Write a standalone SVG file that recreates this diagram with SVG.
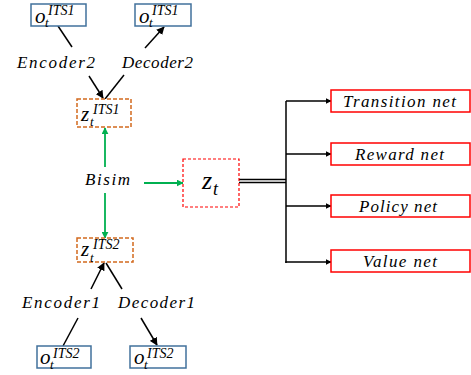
<svg xmlns="http://www.w3.org/2000/svg" width="471" height="375" viewBox="0 0 471 375">
<style>
text{font-family:"Liberation Serif","DejaVu Serif",serif;font-style:italic;fill:#000}
.lbl{font-size:17px}
.obs{fill:#fff;stroke:#41719C;stroke-width:1.5}
.lat{fill:#fff;stroke:#D2691E;stroke-width:1.5;stroke-dasharray:4 2}
.zt{fill:#fff;stroke:#FF0000;stroke-width:1.2;stroke-dasharray:3 2}
.net{fill:#fff;stroke:#FF0000;stroke-width:1.5}
.k{stroke:#000;stroke-width:1.5;fill:none}
.g{stroke:#00B050;stroke-width:1.8;fill:none}
.b{font-size:21px}
.s{font-size:13px}
.p{font-size:14px}
</style>
<defs>
<marker id="ak" viewBox="0 0 10 10" refX="9" refY="5" markerWidth="8" markerHeight="8" orient="auto" markerUnits="userSpaceOnUse"><path d="M0,0 L10,5 L0,10 z" fill="#000"/></marker>
<marker id="ag" viewBox="0 0 10 10" refX="9" refY="5" markerWidth="7" markerHeight="7" orient="auto" markerUnits="userSpaceOnUse"><path d="M0,0 L10,5 L0,10 z" fill="#00B050"/></marker>
<marker id="as" viewBox="0 0 10 10" refX="9" refY="5" markerWidth="6" markerHeight="6" orient="auto" markerUnits="userSpaceOnUse"><path d="M0,0 L10,5 L0,10 z" fill="#000"/></marker>
</defs>
<g id="connectors">
<line class="k" x1="58" y1="26" x2="72" y2="47"/>
<line class="k" x1="145" y1="48" x2="164" y2="27" marker-end="url(#ak)"/>
<line class="k" x1="89" y1="76" x2="103" y2="98" marker-end="url(#ak)"/>
<line class="k" x1="124" y1="75" x2="105" y2="99"/>
<line class="g" x1="105" y1="167" x2="105" y2="128" marker-end="url(#ag)"/>
<line class="g" x1="105" y1="193" x2="105" y2="238" marker-end="url(#ag)"/>
<line class="g" x1="144" y1="183" x2="183" y2="183" marker-end="url(#ag)"/>
<line class="k" x1="91" y1="289" x2="104" y2="263" marker-end="url(#ak)"/>
<line class="k" x1="122" y1="289" x2="106" y2="263"/>
<line class="k" x1="78" y1="318" x2="63" y2="346"/>
<line class="k" x1="141" y1="318" x2="157" y2="345" marker-end="url(#ak)"/>
<line class="k" x1="239" y1="179.5" x2="286" y2="179.5"/>
<line class="k" x1="239" y1="182.5" x2="286" y2="182.5"/>
<line class="k" x1="286" y1="101" x2="286" y2="263"/>
<line class="k" x1="286" y1="101" x2="331" y2="101" marker-end="url(#as)"/>
<line class="k" x1="286" y1="154" x2="331" y2="154" marker-end="url(#as)"/>
<line class="k" x1="286" y1="206" x2="331" y2="206" marker-end="url(#as)"/>
<line class="k" x1="285.25" y1="262" x2="331" y2="262" marker-end="url(#as)"/>
</g>
<g id="o1_enc">
<rect class="obs" x="31" y="4" width="55" height="22"/>
<text><tspan class="b" x="35" y="23">o</tspan><tspan class="s" x="45" y="27">t</tspan><tspan class="p" x="48" y="15">ITS1</tspan></text>
</g>
<g id="o1_dec">
<rect class="obs" x="135" y="4" width="56" height="22"/>
<text><tspan class="b" x="139" y="23">o</tspan><tspan class="s" x="149" y="27">t</tspan><tspan class="p" x="152" y="15">ITS1</tspan></text>
</g>
<g id="encoder2"><text class="lbl" x="17" y="68" textLength="78" lengthAdjust="spacing">Encoder2</text></g>
<g id="decoder2"><text class="lbl" x="122" y="68" textLength="71" lengthAdjust="spacing">Decoder2</text></g>
<g id="z_its1">
<rect class="lat" x="77" y="99" width="54" height="28"/>
<text><tspan class="b" x="81" y="121">z</tspan><tspan class="s" x="90" y="126">t</tspan><tspan class="p" x="93" y="114">ITS1</tspan></text>
</g>
<g id="bisim"><text class="lbl" x="85" y="185" textLength="45" lengthAdjust="spacing">Bisim</text></g>
<g id="z_t">
<rect class="zt" x="183" y="159" width="56" height="48"/>
<text><tspan x="202" y="189" style="font-size:26px">z</tspan><tspan x="213" y="195" style="font-size:18px">t</tspan></text>
</g>
<g id="z_its2">
<rect class="lat" x="77" y="238" width="56" height="24"/>
<text><tspan class="b" x="81" y="256">z</tspan><tspan class="s" x="90" y="262">t</tspan><tspan class="p" x="93" y="249">ITS2</tspan></text>
</g>
<g id="encoder1"><text class="lbl" x="22" y="308" textLength="78" lengthAdjust="spacing">Encoder1</text></g>
<g id="decoder1"><text class="lbl" x="118" y="308" textLength="77" lengthAdjust="spacing">Decoder1</text></g>
<g id="o2_enc">
<rect class="obs" x="37" y="346" width="54" height="22"/>
<text><tspan class="b" x="40" y="364">o</tspan><tspan class="s" x="50" y="369">t</tspan><tspan class="p" x="53" y="358">ITS2</tspan></text>
</g>
<g id="o2_dec">
<rect class="obs" x="130" y="346" width="56" height="22"/>
<text><tspan class="b" x="134" y="364">o</tspan><tspan class="s" x="144" y="369">t</tspan><tspan class="p" x="147" y="358">ITS2</tspan></text>
</g>
<g id="transition_net">
<rect class="net" x="331" y="90" width="139" height="22"/>
<text class="lbl" x="343" y="107" textLength="113" lengthAdjust="spacing">Transition net</text>
</g>
<g id="reward_net">
<rect class="net" x="331" y="143" width="139" height="22"/>
<text class="lbl" x="355" y="160" textLength="89" lengthAdjust="spacing">Reward net</text>
</g>
<g id="policy_net">
<rect class="net" x="331" y="195" width="139" height="22"/>
<text class="lbl" x="359" y="212" textLength="78" lengthAdjust="spacing">Policy net</text>
</g>
<g id="value_net">
<rect class="net" x="331" y="250" width="139" height="22"/>
<text class="lbl" x="363" y="267" textLength="74" lengthAdjust="spacing">Value net</text>
</g>
</svg>
